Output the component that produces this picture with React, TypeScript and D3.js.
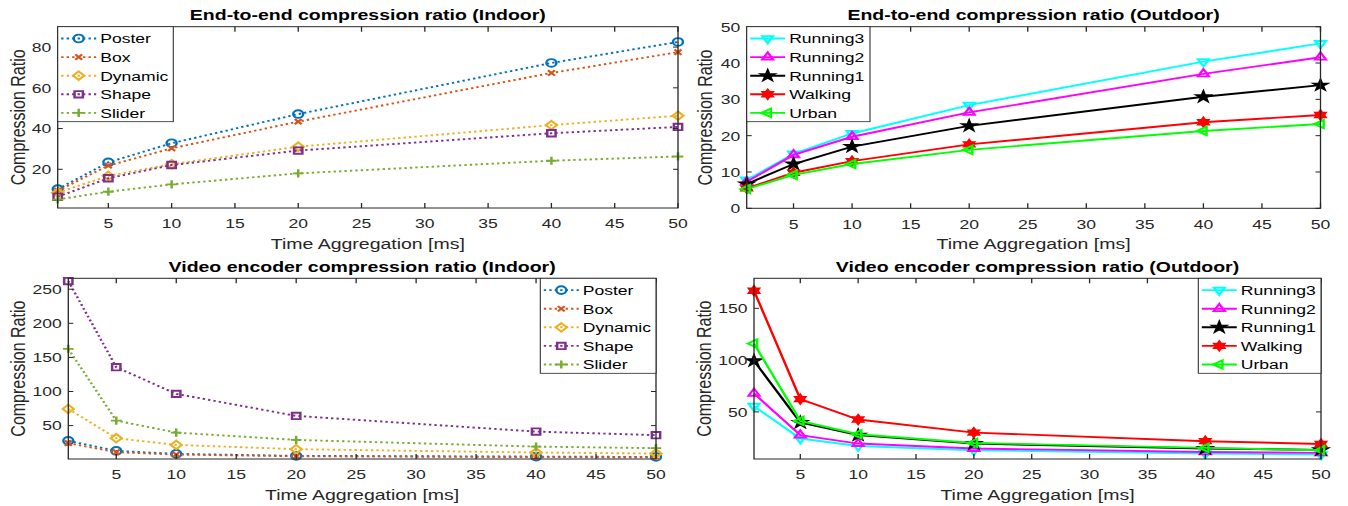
import React from "react";
import * as d3 from "d3";

// the source figure was exported stretched sideways; draw in plain units
// and scale x back up on the outer group
const STRETCH = 1.3;
const ux = (px: number) => px / STRETCH;

const timeAgg = [1, 5, 10, 20, 40, 50];
const xTickValues = [5, 10, 15, 20, 25, 30, 35, 40, 45, 50];

const indoorScenes = ["Poster", "Box", "Dynamic", "Shape", "Slider"];
const outdoorScenes = ["Running3", "Running2", "Running1", "Walking", "Urban"];

// end-to-end, indoor
const posterE2E = [10.3, 23.4, 32.8, 47.1, 72.2, 82.5];
const boxE2E = [9.5, 21.8, 30.3, 43.4, 67.3, 77.5];
const dynamicE2E = [8.5, 16.8, 22.5, 31.1, 41.7, 46.3];
const shapeE2E = [6.5, 15.6, 22.1, 29.2, 37.7, 40.8];
const sliderE2E = [5.2, 9, 12.6, 18, 24.2, 26.3];

// end-to-end, outdoor
const running3E2E = [7.8, 15, 20.6, 28.4, 40.4, 45.4];
const running2E2E = [7.3, 14.7, 19.7, 26.4, 37, 41.6];
const running1E2E = [6.7, 12.2, 17, 22.7, 30.7, 33.9];
const walkingE2E = [5.5, 9.8, 13, 17.6, 23.7, 25.7];
const urbanE2E = [5.3, 9.2, 12.2, 16.1, 21.3, 23.2];

// video encoder, indoor
const posterVid = [27.6, 12.9, 8.5, 5.6, 4.5, 4];
const boxVid = [24.2, 11, 7.5, 5, 3.8, 3.5];
const dynamicVid = [74.5, 31.5, 21.7, 15.4, 10.5, 9];
const shapeVid = [262, 135.6, 96.5, 64.2, 41.2, 36];
const sliderVid = [162.5, 57.3, 39.7, 29, 19.2, 16.9];

// video encoder, outdoor
const running3Vid = [55.5, 24.3, 17.1, 13, 9.8, 8.8];
const running2Vid = [67.8, 27.5, 19.4, 14.6, 11.3, 10.4];
const running1Vid = [99.3, 39.7, 27.5, 19.4, 14.6, 13.3];
const walkingVid = [167, 62.3, 42.6, 30, 21.7, 19];
const urbanVid = [116, 41.3, 28.4, 20, 15.2, 13];

const indoorColors = ["#0072BD", "#D95319", "#EDB120", "#7E2F8E", "#77AC30"];
const outdoorColors = ["#00FFFF", "#FF00FF", "#000000", "#FF0000", "#00FF00"];
const indoorMarkers = ["circle", "times", "diamond", "square", "plus"];
const outdoorMarkers = ["triDown", "triUp", "star", "hexagram", "triLeft"];

const yTicksE2EIn = [20, 40, 60, 80];
const yTicksE2EOut = [0, 10, 20, 30, 40, 50];
const yTicksVidIn = [50, 100, 150, 200, 250];
const yTicksVidOut = [50, 100, 150];

const FONT = "'Liberation Sans', Arial, Helvetica, sans-serif";
const AXIS = "#262626";

const symbolHexagram = {
  draw(ctx: any, size: number) {
    const r = Math.sqrt(size) * 0.62;
    for (let i = 0; i < 12; i++) {
      const a = (i * Math.PI) / 6 - Math.PI / 2;
      const rr = i % 2 === 0 ? r : r * 0.58;
      const px = rr * Math.cos(a);
      const py = rr * Math.sin(a);
      if (i === 0) ctx.moveTo(px, py);
      else ctx.lineTo(px, py);
    }
    ctx.closePath();
  },
};

const markerDef = (kind: string): [any, number, number, boolean] => {
  // type, size, rotation, filled
  switch (kind) {
    case "circle": return [d3.symbolCircle, 46, 0, false];
    case "times": return [d3.symbolTimes, 20, 0, false];
    case "diamond": return [d3.symbolDiamond2, 46, 0, false];
    case "square": return [d3.symbolSquare2, 52, 0, false];
    case "plus": return [d3.symbolPlus, 24, 0, false];
    case "triUp": return [d3.symbolTriangle2, 50, 0, false];
    case "triDown": return [d3.symbolTriangle2, 50, 180, false];
    case "triLeft": return [d3.symbolTriangle2, 50, -90, false];
    case "star": return [d3.symbolStar, 30, 0, true];
    default: return [symbolHexagram, 52, 0, true];
  }
};

function Marker({ kind, color, x, y }: { kind: string; color: string; x: number; y: number }) {
  const [type, size, rot, filled] = markerDef(kind);
  const d = d3.symbol().type(type).size(size)() || "";
  return (
    <path
      d={d}
      transform={`translate(${x},${y}) rotate(${rot})`}
      fill={filled ? color : "none"}
      stroke={color}
      strokeWidth={1.9}
    />
  );
}

const panels = [
  {
    title: "End-to-end compression ratio (Indoor)",
    names: indoorScenes,
    values: [posterE2E, boxE2E, dynamicE2E, shapeE2E, sliderE2E],
    colors: indoorColors, markers: indoorMarkers, dotted: true,
    yDomain: [1, 90], yTicks: yTicksE2EIn,
    left: 57.7, right: 678, top: 26.7, bottom: 208, yLabelX: 17.5,
    legendLeft: 57.7, legendWidth: 115.6,
  },
  {
    title: "End-to-end compression ratio (Outdoor)",
    names: outdoorScenes,
    values: [running3E2E, running2E2E, running1E2E, walkingE2E, urbanE2E],
    colors: outdoorColors, markers: outdoorMarkers, dotted: false,
    yDomain: [0, 50], yTicks: yTicksE2EOut,
    left: 746.7, right: 1320.5, top: 26.7, bottom: 208.3, yLabelX: 705,
    legendLeft: 746.7, legendWidth: 123.3,
  },
  {
    title: "Video encoder compression ratio (Indoor)",
    names: indoorScenes,
    values: [posterVid, boxVid, dynamicVid, shapeVid, sliderVid],
    colors: indoorColors, markers: indoorMarkers, dotted: true,
    yDomain: [1, 266], yTicks: yTicksVidIn,
    left: 68.3, right: 656, top: 278.3, bottom: 459, yLabelX: 17.5,
    legendLeft: 656 - 115.7, legendWidth: 115.7,
  },
  {
    title: "Video encoder compression ratio (Outdoor)",
    names: outdoorScenes,
    values: [running3Vid, running2Vid, running1Vid, walkingVid, urbanVid],
    colors: outdoorColors, markers: outdoorMarkers, dotted: false,
    yDomain: [4.5, 179], yTicks: yTicksVidOut,
    left: 754, right: 1321, top: 278.3, bottom: 459, yLabelX: 704,
    legendLeft: 1321 - 122.7, legendWidth: 122.7,
  },
];

function Panel({ p }: { p: any }) {
  const x = d3.scaleLinear().domain([1, 50]).range([ux(p.left), ux(p.right)]);
  const y = d3.scaleLinear().domain(p.yDomain).range([p.bottom, p.top]);
  const line = d3.line<number>().x((_, i) => x(timeAgg[i])).y((d) => y(d));
  const dash = p.dotted ? "1.8 2.4" : undefined;
  const tick = 5;
  const lgLeft = ux(p.legendLeft);
  const lgTop = p.top;
  const rowH = 18.6;

  return (
    <g>
      {/* data */}
      {p.values.map((vals: number[], i: number) => (
        <g key={i}>
          <path d={line(vals) || ""} fill="none" stroke={p.colors[i]} strokeWidth={1.9} strokeDasharray={dash} />
          {vals.map((v, j) => (
            <Marker key={j} kind={p.markers[i]} color={p.colors[i]} x={x(timeAgg[j])} y={y(v)} />
          ))}
        </g>
      ))}

      {/* axes box and inward ticks */}
      <rect x={ux(p.left)} y={p.top} width={ux(p.right - p.left)} height={p.bottom - p.top} fill="none" stroke={AXIS} strokeWidth={1} />
      {xTickValues.map((t) => (
        <g key={"x" + t}>
          <line x1={x(t)} x2={x(t)} y1={p.bottom} y2={p.bottom - tick} stroke={AXIS} />
          <line x1={x(t)} x2={x(t)} y1={p.top} y2={p.top + tick} stroke={AXIS} />
          <text x={x(t)} y={p.bottom + 20.3} textAnchor="middle" fontSize={13.5} fill={AXIS}>{t}</text>
        </g>
      ))}
      {p.yTicks.map((t: number) => (
        <g key={"y" + t}>
          <line x1={ux(p.left)} x2={ux(p.left + tick)} y1={y(t)} y2={y(t)} stroke={AXIS} />
          <line x1={ux(p.right)} x2={ux(p.right - tick)} y1={y(t)} y2={y(t)} stroke={AXIS} />
          <text x={ux(p.left - 6.5)} y={y(t)} dy="0.36em" textAnchor="end" fontSize={13.5} fill={AXIS}>{t}</text>
        </g>
      ))}

      {/* labels */}
      <text x={ux((p.left + p.right) / 2)} y={p.top - 6.5} textAnchor="middle" fontSize={15} fontWeight="bold" fill="#000">{p.title}</text>
      <text x={ux((p.left + p.right) / 2)} y={p.bottom + 41} textAnchor="middle" fontSize={15} fill={AXIS}>Time Aggregation [ms]</text>
      <text transform={`translate(${ux(p.yLabelX)},${(p.top + p.bottom) / 2}) rotate(-90)`} dy="0.36em" textAnchor="middle" fontSize={16} fill={AXIS}>Compression Ratio</text>

      {/* legend */}
      <rect x={lgLeft} y={lgTop} width={ux(p.legendWidth)} height={95} fill="#fff" stroke={AXIS} strokeWidth={0.8} />
      {p.names.map((name: string, i: number) => {
        const cy = lgTop + 11.8 + i * rowH;
        return (
          <g key={name}>
            <line x1={lgLeft + ux(3.5)} x2={lgLeft + ux(38.5)} y1={cy} y2={cy} stroke={p.colors[i]} strokeWidth={1.9} strokeDasharray={dash} />
            <Marker kind={p.markers[i]} color={p.colors[i]} x={lgLeft + ux(21)} y={cy} />
            <text x={lgLeft + ux(42.5)} y={cy} dy="0.36em" fontSize={13.5} fill="#000">{name}</text>
          </g>
        );
      })}
    </g>
  );
}

export default function App() {
  return (
    <svg width={1348} height={506} style={{ position: "absolute", left: 0, top: 0, background: "#fff" }} fontFamily={FONT}>
      <rect width={1348} height={506} fill="#fff" />
      <g transform={`scale(${STRETCH},1)`}>
        {panels.map((p, i) => (
          <Panel key={i} p={p} />
        ))}
      </g>
    </svg>
  );
}
